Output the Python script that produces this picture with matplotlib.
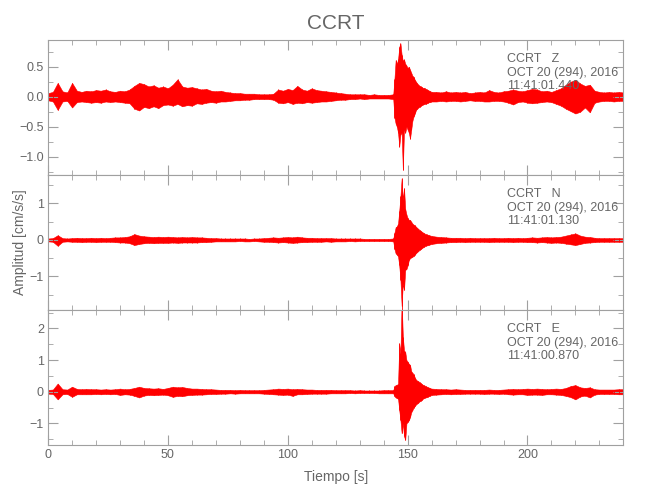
import matplotlib.pyplot as plt
import numpy as np
from matplotlib.ticker import MultipleLocator

# time knots (s): 2 s steps on the quiet parts, 0.5 s steps across the event
t = np.concatenate([np.arange(0, 144, 2), np.arange(144, 160.5, 0.5), np.arange(162, 241, 2)])

# upper / lower envelope of each component
z_hi = ([0.06, 0.08, 0.23, 0.09, 0.07, 0.23, 0.10, 0.08, 0.10, 0.09,
         0.11, 0.10, 0.12, 0.09, 0.08, 0.10, 0.09, 0.12, 0.18, 0.23,
         0.21, 0.17, 0.19, 0.15, 0.17, 0.14, 0.20, 0.29, 0.17, 0.15,
         0.16, 0.14, 0.12, 0.13, 0.10, 0.09, 0.10, 0.08, 0.07, 0.06,
         0.06, 0.05, 0.05, 0.05, 0.04, 0.04, 0.04, 0.05, 0.12, 0.10,
         0.13, 0.11, 0.18, 0.12, 0.10, 0.14, 0.11, 0.10, 0.09, 0.08,
         0.07, 0.06, 0.05, 0.04, 0.04, 0.04, 0.04, 0.03, 0.04, 0.03,
         0.03, 0.03]
        + [0.04, 0.30, 0.61, 0.55, 0.62, 0.83, 0.89, 0.70, 0.60, 0.62, 0.55,
           0.52, 0.48, 0.50, 0.45, 0.40, 0.35, 0.33, 0.28, 0.25, 0.22, 0.20,
           0.18, 0.17, 0.16, 0.14, 0.15, 0.13, 0.12, 0.11, 0.10, 0.09, 0.08]
        + [0.08, 0.07, 0.09, 0.07, 0.08, 0.07, 0.08, 0.06, 0.07, 0.08,
           0.07, 0.11, 0.08, 0.07, 0.09, 0.10, 0.12, 0.10, 0.09, 0.11,
           0.13, 0.12, 0.09, 0.10, 0.08, 0.11, 0.14, 0.20, 0.25, 0.28,
           0.22, 0.18, 0.20, 0.10, 0.08, 0.07, 0.08, 0.07, 0.08, 0.07])
z_lo = ([-0.06, -0.08, -0.22, -0.08, -0.07, -0.18, -0.09, -0.08, -0.09, -0.10,
         -0.09, -0.10, -0.08, -0.09, -0.08, -0.09, -0.10, -0.11, -0.20, -0.23,
         -0.17, -0.19, -0.16, -0.19, -0.14, -0.13, -0.15, -0.12, -0.16, -0.14,
         -0.15, -0.11, -0.12, -0.10, -0.09, -0.10, -0.08, -0.08, -0.07, -0.06,
         -0.06, -0.05, -0.05, -0.04, -0.04, -0.04, -0.04, -0.05, -0.10, -0.11,
         -0.09, -0.12, -0.10, -0.11, -0.09, -0.10, -0.09, -0.08, -0.08, -0.07,
         -0.06, -0.05, -0.05, -0.04, -0.04, -0.03, -0.04, -0.03, -0.03, -0.03,
         -0.03, -0.03]
        + [-0.04, -0.35, -0.45, -0.50, -0.60, -0.83, -0.63, -0.60, -1.22, -0.55, -0.60,
           -0.50, -0.55, -0.60, -0.70, -0.55, -0.40, -0.33, -0.28, -0.22, -0.20, -0.18,
           -0.17, -0.15, -0.14, -0.13, -0.12, -0.12, -0.11, -0.10, -0.09, -0.09, -0.08]
        + [-0.08, -0.07, -0.08, -0.07, -0.07, -0.08, -0.07, -0.06, -0.07, -0.07,
           -0.08, -0.08, -0.07, -0.07, -0.08, -0.10, -0.13, -0.09, -0.08, -0.10,
           -0.11, -0.10, -0.09, -0.08, -0.09, -0.12, -0.15, -0.20, -0.24, -0.28,
           -0.25, -0.18, -0.26, -0.10, -0.08, -0.07, -0.07, -0.08, -0.07, -0.07])

n_hi = ([0.04, 0.05, 0.13, 0.05, 0.04, 0.05, 0.06, 0.05, 0.05, 0.06,
         0.05, 0.06, 0.05, 0.06, 0.07, 0.07, 0.08, 0.10, 0.16, 0.12,
         0.10, 0.09, 0.08, 0.09, 0.08, 0.09, 0.08, 0.07, 0.08, 0.07,
         0.08, 0.07, 0.07, 0.06, 0.05, 0.05, 0.04, 0.04, 0.04, 0.04,
         0.04, 0.04, 0.03, 0.04, 0.04, 0.05, 0.06, 0.07, 0.06, 0.07,
         0.08, 0.07, 0.09, 0.07, 0.06, 0.06, 0.05, 0.05, 0.05, 0.05,
         0.04, 0.04, 0.04, 0.04, 0.04, 0.04, 0.03, 0.03, 0.03, 0.03,
         0.03, 0.03]
        + [0.04, 0.20, 0.35, 0.37, 0.45, 0.80, 1.20, 1.69, 1.10, 1.42, 0.85,
           0.70, 0.60, 0.55, 0.55, 0.50, 0.45, 0.42, 0.40, 0.36, 0.33, 0.30,
           0.27, 0.25, 0.22, 0.20, 0.18, 0.16, 0.15, 0.14, 0.13, 0.12, 0.11]
        + [0.09, 0.08, 0.07, 0.06, 0.06, 0.06, 0.05, 0.06, 0.05, 0.05,
           0.05, 0.05, 0.06, 0.05, 0.05, 0.06, 0.05, 0.06, 0.05, 0.06,
           0.07, 0.06, 0.07, 0.08, 0.07, 0.08, 0.09, 0.12, 0.15, 0.18,
           0.12, 0.09, 0.08, 0.06, 0.05, 0.05, 0.05, 0.05, 0.05, 0.05])
n_lo = ([-0.04, -0.05, -0.16, -0.05, -0.04, -0.05, -0.05, -0.06, -0.05, -0.05,
         -0.06, -0.05, -0.05, -0.05, -0.06, -0.07, -0.07, -0.09, -0.14, -0.11,
         -0.09, -0.08, -0.09, -0.08, -0.08, -0.08, -0.07, -0.08, -0.07, -0.07,
         -0.07, -0.07, -0.06, -0.06, -0.05, -0.04, -0.04, -0.04, -0.04, -0.04,
         -0.03, -0.04, -0.04, -0.03, -0.04, -0.05, -0.05, -0.06, -0.07, -0.06,
         -0.07, -0.08, -0.07, -0.06, -0.06, -0.05, -0.05, -0.05, -0.04, -0.05,
         -0.04, -0.04, -0.04, -0.03, -0.04, -0.03, -0.03, -0.03, -0.03, -0.03,
         -0.03, -0.03]
        + [-0.04, -0.25, -0.37, -0.40, -0.45, -0.70, -1.10, -1.81, -1.20, -1.37, -0.82,
           -0.80, -0.70, -0.55, -0.50, -0.48, -0.46, -0.44, -0.40, -0.36, -0.33, -0.30,
           -0.27, -0.25, -0.22, -0.20, -0.18, -0.16, -0.15, -0.14, -0.13, -0.12, -0.11]
        + [-0.09, -0.08, -0.07, -0.06, -0.06, -0.05, -0.06, -0.05, -0.05, -0.05,
           -0.05, -0.06, -0.05, -0.05, -0.05, -0.05, -0.06, -0.05, -0.05, -0.06,
           -0.06, -0.07, -0.06, -0.07, -0.08, -0.07, -0.08, -0.10, -0.12, -0.14,
           -0.11, -0.08, -0.07, -0.06, -0.05, -0.05, -0.05, -0.05, -0.05, -0.05])

e_hi = ([0.06, 0.07, 0.26, 0.08, 0.07, 0.16, 0.09, 0.08, 0.09, 0.08,
         0.08, 0.07, 0.08, 0.07, 0.08, 0.10, 0.08, 0.09, 0.12, 0.16,
         0.12, 0.11, 0.10, 0.11, 0.09, 0.12, 0.16, 0.14, 0.15, 0.12,
         0.10, 0.10, 0.09, 0.08, 0.08, 0.07, 0.06, 0.06, 0.06, 0.05,
         0.06, 0.05, 0.05, 0.05, 0.05, 0.06, 0.07, 0.08, 0.10, 0.09,
         0.10, 0.08, 0.09, 0.08, 0.07, 0.07, 0.06, 0.06, 0.06, 0.06,
         0.05, 0.05, 0.05, 0.05, 0.04, 0.05, 0.04, 0.04, 0.04, 0.04,
         0.05, 0.05]
        + [0.05, 0.18, 0.21, 0.22, 0.25, 1.53, 1.20, 2.90, 1.74, 1.30, 1.26,
           1.00, 0.95, 0.88, 0.85, 0.65, 0.60, 0.55, 0.45, 0.38, 0.35, 0.33,
           0.30, 0.27, 0.24, 0.21, 0.20, 0.18, 0.16, 0.14, 0.13, 0.11, 0.10]
        + [0.09, 0.08, 0.08, 0.07, 0.08, 0.07, 0.06, 0.06, 0.06, 0.06,
           0.06, 0.07, 0.06, 0.06, 0.07, 0.08, 0.09, 0.08, 0.09, 0.10,
           0.09, 0.10, 0.09, 0.08, 0.09, 0.10, 0.09, 0.12, 0.18, 0.21,
           0.14, 0.12, 0.14, 0.08, 0.07, 0.07, 0.07, 0.07, 0.08, 0.08])
e_lo = ([-0.06, -0.07, -0.24, -0.08, -0.07, -0.16, -0.08, -0.08, -0.08, -0.08,
         -0.07, -0.08, -0.07, -0.08, -0.07, -0.10, -0.08, -0.09, -0.13, -0.18,
         -0.12, -0.10, -0.11, -0.10, -0.09, -0.11, -0.16, -0.13, -0.14, -0.11,
         -0.10, -0.09, -0.09, -0.08, -0.07, -0.07, -0.06, -0.06, -0.05, -0.06,
         -0.05, -0.05, -0.05, -0.05, -0.05, -0.06, -0.07, -0.08, -0.09, -0.10,
         -0.09, -0.13, -0.08, -0.08, -0.07, -0.06, -0.06, -0.06, -0.06, -0.05,
         -0.05, -0.05, -0.05, -0.04, -0.05, -0.04, -0.04, -0.04, -0.04, -0.05,
         -0.05, -0.05]
        + [-0.05, -0.14, -0.18, -0.20, -0.22, -0.58, -0.90, -1.31, -1.00, -1.40, -1.52,
           -1.00, -0.95, -0.90, -0.80, -0.65, -0.58, -0.50, -0.45, -0.40, -0.37, -0.34,
           -0.30, -0.28, -0.25, -0.21, -0.20, -0.18, -0.17, -0.15, -0.13, -0.12, -0.10]
        + [-0.09, -0.08, -0.07, -0.08, -0.07, -0.07, -0.06, -0.06, -0.06, -0.06,
           -0.07, -0.06, -0.06, -0.07, -0.06, -0.08, -0.09, -0.08, -0.08, -0.10,
           -0.09, -0.09, -0.10, -0.08, -0.08, -0.09, -0.10, -0.13, -0.17, -0.24,
           -0.15, -0.12, -0.18, -0.09, -0.07, -0.07, -0.07, -0.07, -0.08, -0.08])

components = ['Z', 'N', 'E']
start_times = ['11:41:01.440', '11:41:01.130', '11:41:00.870']
ylims = [(-1.305, 0.945), (-1.92, 1.78), (-1.68, 2.58)]
y_major = [0.5, 1, 1]
y_minor = [0.25, 0.5, 0.5]

GRAY = '#a0a0a0'
TEXT = '#666666'
plt.rcParams['font.family'] = ['Liberation Sans', 'DejaVu Sans']

fig, axes = plt.subplots(3, 1, sharex=True, figsize=(6.5, 5), dpi=100)
fig.subplots_adjust(left=0.074, right=0.959, top=0.92, bottom=0.11, hspace=0)

traces = [(z_hi, z_lo), (n_hi, n_lo), (e_hi, e_lo)]
for i, ax in enumerate(axes):
    hi, lo = np.array(traces[i][0]), np.array(traces[i][1])
    ax.fill_between(t, lo, hi, color='red', lw=0.4, edgecolor='red')
    # spikes are drawn unclipped, as in the record
    ax.vlines(t, lo, hi, color='red', lw=0.6, clip_on=False)
    ax.set_ylim(*ylims[i])
    ax.set_xlim(0, 240)
    ax.yaxis.set_major_locator(MultipleLocator(y_major[i]))
    ax.yaxis.set_minor_locator(MultipleLocator(y_minor[i]))
    ax.xaxis.set_major_locator(MultipleLocator(50))
    ax.xaxis.set_minor_locator(MultipleLocator(10))
    ax.tick_params(which='both', direction='in', top=True, right=True,
                   color=GRAY, labelcolor=TEXT, labelsize=9, pad=3)
    ax.tick_params(which='major', length=7)
    ax.tick_params(which='minor', length=3.6)
    for s in ax.spines.values():
        s.set_color(GRAY)
    ax.text(0.797, 0.905, 'CCRT   %s\nOCT 20 (294), 2016\n%s' % (components[i], start_times[i]),
            transform=ax.transAxes, va='top', ha='left', fontsize=9,
            color=TEXT, linespacing=1.2)

axes[0].yaxis.set_major_formatter(lambda v, p: '%.1f' % v if v >= 0 else '\u2212%.1f' % -v)
axes[0].set_title('CCRT', fontsize=15, color=TEXT, pad=8)
axes[1].set_ylabel('Amplitud [cm/s/s]', fontsize=10, color=TEXT)
axes[1].yaxis.set_label_coords(-0.036, 0.5)
axes[2].set_xlabel('Tiempo [s]', fontsize=10, color=TEXT, labelpad=6)

plt.savefig('out.png')
